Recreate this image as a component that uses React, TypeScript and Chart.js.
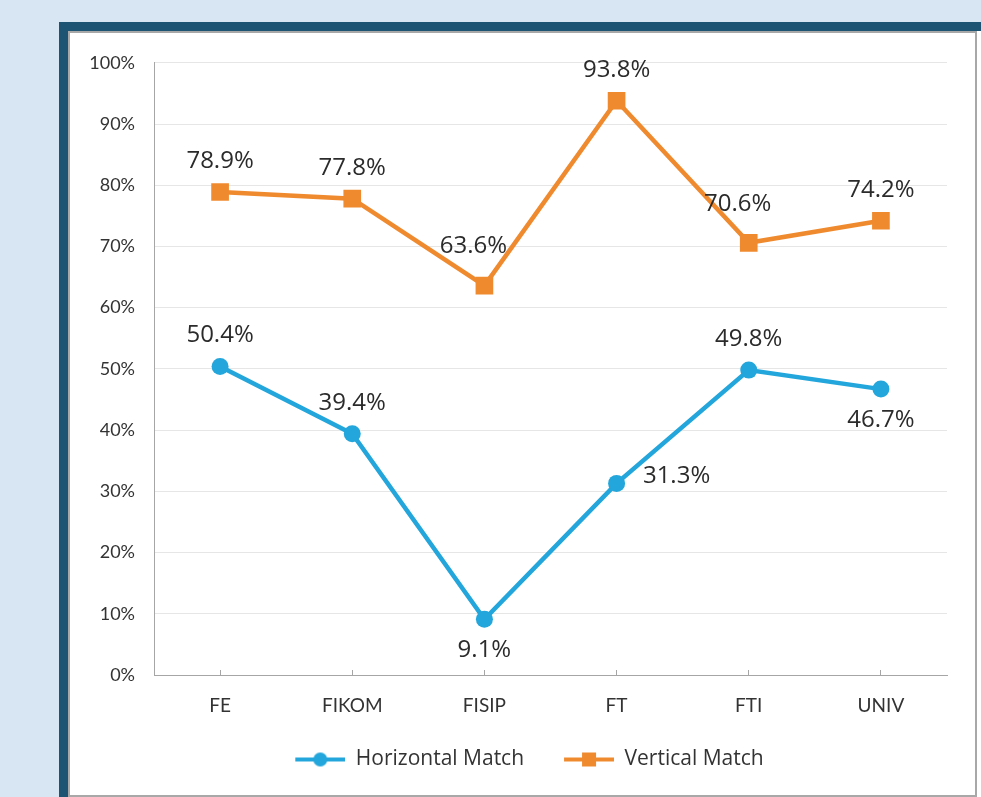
import { useEffect, useRef } from 'react';
import { Chart, registerables } from 'chart.js';

Chart.register(...registerables);

const categories = ['FE', 'FIKOM', 'FISIP', 'FT', 'FTI', 'UNIV'];
const horizontalMatch = [50.4, 39.4, 9.1, 31.3, 49.8, 46.7];
const verticalMatch = [78.9, 77.8, 63.6, 93.8, 70.6, 74.2];
const horizontalLabelPlacement = ['above', 'above', 'below', 'right', 'above', 'below'];
const verticalLabelPlacement = ['above', 'above', 'aboveLeft', 'above', 'aboveLeft', 'above'];
const seriesNames = ['Horizontal Match', 'Vertical Match'];
const yMin = 0;
const yMax = 100;
const yStep = 10;

const BLUE = '#23a6db';
const ORANGE = '#f08a2e';

// icon box is 70 wide: 20px transparent lead-in, then a 50px line with marker
function legendIcon(color: string, shape: 'circle' | 'square'): HTMLCanvasElement {
  const c = document.createElement('canvas');
  c.width = 70;
  c.height = 20;
  const ctx = c.getContext('2d')!;
  ctx.strokeStyle = color;
  ctx.lineWidth = 4;
  ctx.beginPath();
  ctx.moveTo(20, 10);
  ctx.lineTo(70, 10);
  ctx.stroke();
  ctx.fillStyle = color;
  if (shape === 'circle') {
    ctx.beginPath();
    ctx.arc(45, 10, 7, 0, Math.PI * 2);
    ctx.fill();
  } else {
    ctx.fillRect(38, 3, 14, 14);
  }
  return c;
}

const pointLabelPlugin = {
  id: 'pointLabels',
  afterDatasetsDraw(chart: any) {
    const ctx = chart.ctx;
    ctx.save();
    ctx.font = '24px "Open Sans"';
    ctx.fillStyle = '#2b2b2b';
    ctx.textBaseline = 'middle';
    ctx.textAlign = 'center';
    chart.data.datasets.forEach((ds: any, di: number) => {
      const meta = chart.getDatasetMeta(di);
      const placement = di === 0 ? horizontalLabelPlacement : verticalLabelPlacement;
      meta.data.forEach((pt: any, i: number) => {
        const v = ds.data[i] as number;
        let dx = 0;
        let dy = -31;
        if (placement[i] === 'below') dy = 31;
        if (placement[i] === 'right') {
          dx = 60;
          dy = -7;
        }
        if (placement[i] === 'aboveLeft') {
          dx = -11;
          dy = -39;
        }
        ctx.fillText(v.toFixed(1) + '%', pt.x + dx, pt.y + dy);
      });
    });
    ctx.restore();
  },
};

const legendShiftPlugin = {
  id: 'legendShift',
  afterLayout(chart: any) {
    const l = chart.legend;
    if (l) {
      l.left += 11;
      l.right += 11;
    }
  },
};

export default function App() {
  const ref = useRef<HTMLCanvasElement>(null);

  useEffect(() => {
    if (!ref.current) return;
    const icons = [legendIcon(BLUE, 'circle'), legendIcon(ORANGE, 'square')];
    const chart = new Chart(ref.current, {
      type: 'line',
      data: {
        labels: categories,
        datasets: [
          {
            label: seriesNames[0],
            data: horizontalMatch,
            borderColor: BLUE,
            backgroundColor: BLUE,
            borderWidth: 4.5,
            pointStyle: 'circle',
            pointRadius: 8.5,
            pointBorderWidth: 0,
            pointBackgroundColor: BLUE,
            tension: 0,
          },
          {
            label: seriesNames[1],
            data: verticalMatch,
            borderColor: ORANGE,
            backgroundColor: ORANGE,
            borderWidth: 4.5,
            pointStyle: 'rect',
            pointRadius: 12.5,
            pointBorderWidth: 0,
            pointBackgroundColor: ORANGE,
            tension: 0,
          },
        ],
      },
      options: {
        animation: false,
        responsive: false,
        maintainAspectRatio: false,
        layout: { padding: { left: 0, top: 27, right: 28, bottom: 15 } },
        plugins: {
          tooltip: { enabled: false },
          legend: {
            position: 'bottom',
            labels: {
              usePointStyle: true,
              pointStyleWidth: 70,
              padding: 20,
              color: '#333333',
              font: { family: '"Open Sans"', size: 21 },
              generateLabels: () =>
                seriesNames.map((name, i) => ({
                  text: name,
                  pointStyle: icons[i],
                  fillStyle: 'transparent',
                  strokeStyle: 'transparent',
                  lineWidth: 0,
                  hidden: false,
                  datasetIndex: i,
                  fontColor: '#333333',
                })),
            },
          },
        },
        scales: {
          x: {
            offset: true,
            afterFit: (s: any) => {
              s.height = 54;
            },
            grid: {
              drawOnChartArea: false,
              drawTicks: true,
              tickLength: -5,
              color: '#a6a6a6',
              offset: false,
            },
            border: { color: '#a6a6a6', width: 1 },
            ticks: {
              color: '#333333',
              padding: 24,
              font: { family: 'Lato', size: 19 },
              autoSkip: false,
              maxRotation: 0,
            },
          },
          y: {
            min: yMin,
            max: yMax,
            afterFit: (s: any) => {
              s.width = 84;
            },
            grid: {
              color: '#e6e6e6',
              drawTicks: false,
            },
            border: { color: '#a6a6a6', width: 1 },
            ticks: {
              stepSize: yStep,
              padding: 19,
              color: '#333333',
              font: { family: 'Lato', size: 18 },
              callback: (v: any) => v + '%',
            },
          },
        },
      },
      plugins: [pointLabelPlugin, legendShiftPlugin],
    });
    return () => chart.destroy();
  }, []);

  return (
    <div
      style={{
        position: 'fixed',
        left: 0,
        top: 0,
        width: 981,
        height: 797,
        background: '#d8e6f3',
        overflow: 'hidden',
      }}
    >
      <div
        style={{
          position: 'absolute',
          left: 59,
          top: 22,
          width: 922,
          height: 775,
          background: '#1e5473',
        }}
      />
      <div
        style={{
          position: 'absolute',
          left: 68,
          top: 31,
          width: 913,
          height: 766,
          background: '#ffffff',
        }}
      />
      <div
        style={{
          position: 'absolute',
          left: 68,
          top: 31,
          width: 909,
          height: 766,
          boxSizing: 'border-box',
          border: '2px solid #a8a8a8',
          background: '#ffffff',
        }}
      />
      <canvas
        ref={ref}
        width={905}
        height={762}
        style={{ position: 'absolute', left: 70, top: 33, width: 905, height: 762 }}
      />
    </div>
  );
}
